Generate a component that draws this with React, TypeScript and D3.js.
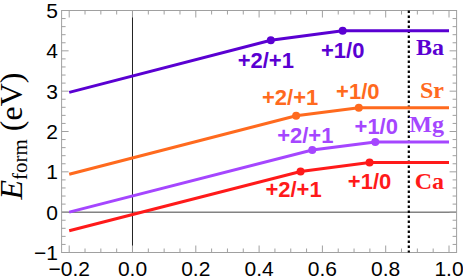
import React from "react";
import * as d3 from "d3";

const W = 463;
const H = 276;

const xTicks = [-0.2, 0.0, 0.2, 0.4, 0.6, 0.8, 1.0];
const yTicks = [-1, 0, 1, 2, 3, 4, 5];

// [x, y] points: start, +2/+1, +1/0, end
const baPoints: [number, number][] = [[-0.2, 2.97], [0.437, 4.26], [0.664, 4.5], [1.0, 4.5]];
const srPoints: [number, number][] = [[-0.2, 0.94], [0.517, 2.39], [0.715, 2.59], [1.0, 2.59]];
const mgPoints: [number, number][] = [[-0.2, 0.0], [0.568, 1.54], [0.767, 1.74], [1.0, 1.74]];
const caPoints: [number, number][] = [[-0.2, -0.46], [0.531, 1.01], [0.749, 1.23], [1.0, 1.23]];

const elements = ["Ba", "Sr", "Mg", "Ca"];
const transitionLabels = ["+2/+1", "+1/0"];
const dottedX = 0.873;

const colors: Record<string, string> = {
  Ba: "#5a00d2",
  Sr: "#ff6a1e",
  Mg: "#a546ff",
  Ca: "#ff1a1a",
};

// label offsets (pixels) relative to the transition point
const labelOffsets: Record<string, [number, number][]> = {
  Ba: [[-5, 28], [0, 27]],
  Sr: [[-6, -11], [-1, -9]],
  Mg: [[-7, -7], [1, -8]],
  Ca: [[-7, 26], [0, 26]],
};
const nameBaselines: Record<string, number> = { Ba: 55, Sr: 98, Mg: 132, Ca: 189 };

const seriesPoints: Record<string, [number, number][]> = {
  Ba: baPoints,
  Sr: srPoints,
  Mg: mgPoints,
  Ca: caPoints,
};

export default function App() {
  const x = d3.scaleLinear().domain([-0.224, 1.024]).range([61.6, 456.6]);
  const y = d3.scaleLinear().domain([-1, 5]).range([252.5, 10.5]);
  const [x0, x1] = x.range();
  const [yb, yt] = y.range();

  const line = d3
    .line<[number, number]>()
    .x((d) => x(d[0]))
    .y((d) => y(d[1]));

  const fmt = (v: number) => {
    const s = Math.abs(v).toFixed(1);
    return v < 0 ? "\u2212" + s : s;
  };
  const fmtY = (v: number) => (v < 0 ? "\u2212" + Math.abs(v) : String(v));

  const xMinor = d3.range(-0.2, 1.0001, 0.05).filter((v) => Math.abs(Math.round(v / 0.2) * 0.2 - v) > 1e-6);
  const yMinor = d3.range(-1, 5.0001, 0.2).filter((v) => Math.abs(Math.round(v) - v) > 1e-6);

  const frameColor = "#a0a0a0";
  const tickFont = "'Liberation Sans', Arial, Helvetica, sans-serif";
  const serif = "'Liberation Serif', 'Times New Roman', serif";

  return (
    <svg width={W} height={H} style={{ position: "absolute", left: 0, top: 0 }}>
      <rect x={0} y={0} width={W} height={H} fill="white" />
      {/* zero lines */}
      <line x1={x0} x2={x1} y1={y(0)} y2={y(0)} stroke="#444" strokeWidth={1} />
      <line x1={x(0)} x2={x(0)} y1={yb} y2={yt} stroke="#222" strokeWidth={1} />
      {/* frame */}
      <rect x={x0} y={yt} width={x1 - x0} height={yb - yt} fill="none" stroke={frameColor} strokeWidth={1} />
      {/* x ticks */}
      {xTicks.map((t) => (
        <g key={"xt" + t}>
          <line x1={x(t)} x2={x(t)} y1={yb} y2={yb - 7} stroke={frameColor} />
          <line x1={x(t)} x2={x(t)} y1={yt} y2={yt + 7} stroke={frameColor} />
          <text x={x(t)} y={276} textAnchor="middle" fontFamily={tickFont} fontSize={21} fill="#000">
            {fmt(t)}
          </text>
        </g>
      ))}
      {xMinor.map((t) => (
        <g key={"xm" + t}>
          <line x1={x(t)} x2={x(t)} y1={yb} y2={yb - 4} stroke={frameColor} />
          <line x1={x(t)} x2={x(t)} y1={yt} y2={yt + 4} stroke={frameColor} />
        </g>
      ))}
      {/* y ticks */}
      {yTicks.map((t) => (
        <g key={"yt" + t}>
          <line x1={x0} x2={x0 + 7} y1={y(t)} y2={y(t)} stroke={frameColor} />
          <line x1={x1} x2={x1 - 7} y1={y(t)} y2={y(t)} stroke={frameColor} />
          <text x={58} y={y(t) + 7.5} textAnchor="end" fontFamily={tickFont} fontSize={21} fill="#000">
            {fmtY(t)}
          </text>
        </g>
      ))}
      {yMinor.map((t) => (
        <g key={"ym" + t}>
          <line x1={x0} x2={x0 + 4} y1={y(t)} y2={y(t)} stroke={frameColor} />
          <line x1={x1} x2={x1 - 4} y1={y(t)} y2={y(t)} stroke={frameColor} />
        </g>
      ))}
      {/* dotted line */}
      <line
        x1={x(dottedX)}
        x2={x(dottedX)}
        y1={yt}
        y2={yb}
        stroke="#000"
        strokeWidth={2.2}
        strokeDasharray="2.5,2.5"
      />
      {/* series */}
      {elements.map((el) => {
        const pts = seriesPoints[el];
        const c = colors[el];
        return (
          <g key={el}>
            <path d={line(pts) || ""} fill="none" stroke={c} strokeWidth={3} />
            {[pts[1], pts[2]].map((p, i) => (
              <g key={i}>
                <circle cx={x(p[0])} cy={y(p[1])} r={4} fill={c} />
                <text
                  x={x(p[0]) + labelOffsets[el][i][0]}
                  y={y(p[1]) + labelOffsets[el][i][1]}
                  textAnchor="middle"
                  fontFamily={tickFont}
                  fontWeight="bold"
                  fontSize={22}
                  fill={c}
                >
                  {transitionLabels[i]}
                </text>
              </g>
            ))}
            <text
              x={444}
              y={nameBaselines[el]}
              textAnchor="end"
              fontFamily={serif}
              fontWeight="bold"
              fontSize={24}
              fill={c}
            >
              {el}
            </text>
          </g>
        );
      })}
      {/* y axis label */}
      <text
        transform={`translate(22, ${136}) rotate(-90)`}
        textAnchor="middle"
        fontFamily={serif}
        fontSize={32}
        fill="#000"
      >
        <tspan fontStyle="italic">E</tspan>
        <tspan fontSize={21} dy={5}>form</tspan>
        <tspan dy={-5}> (eV)</tspan>
      </text>
    </svg>
  );
}
